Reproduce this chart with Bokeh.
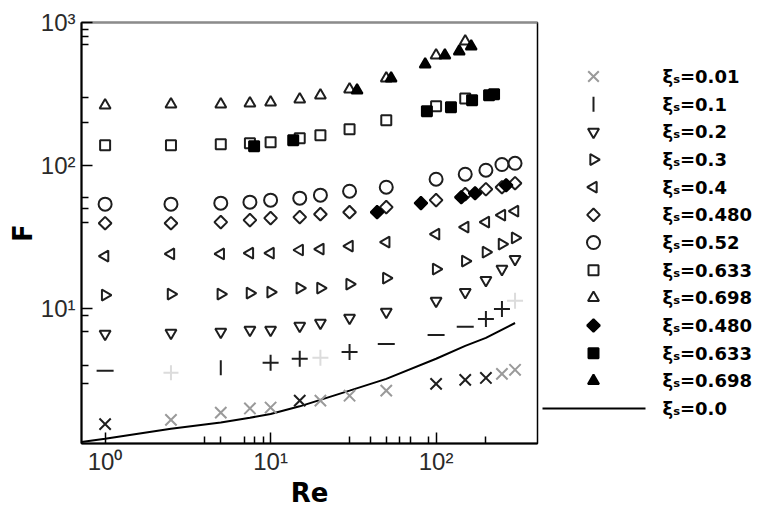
import math
from bokeh.plotting import figure
from bokeh.models import LogAxis, FixedTicker, Range1d, ColumnDataSource
from bokeh.layouts import row
from bokeh.embed import file_html
from bokeh.resources import INLINE
from bokeh.core.properties import value

# ---------------- data ----------------
re_all = [1, 2.5, 5, 7.5, 10, 15, 20, 30, 50, 100, 150, 200, 250, 300]

F_001 = [1.57, 1.68, 1.89, 2.02, 2.05, 2.29, 2.29, 2.48, 2.69, 3.00, 3.20, 3.30, 3.52, 3.76]

re_01 = [5, 1, 2.5, 10, 15, 20, 30, 50, 100, 150, 200, 250, 300]
F_01 = [3.88, 3.70, 3.58, 4.21, 4.49, 4.56, 5.01, 5.70, 6.59, 7.50, 8.51, 10.0, 11.4]

F_02 = [6.70, 6.81, 6.92, 7.14, 7.14, 7.62, 7.99, 8.65, 9.53, 11.4, 13.1, 15.9, 19.0, 22.3]
F_03 = [12.5, 12.7, 12.7, 12.9, 13.1, 14.0, 14.0, 14.9, 16.4, 19.0, 21.6, 24.9, 28.4, 31.3]
F_04 = [23.4, 24.2, 24.2, 24.5, 24.5, 25.8, 26.2, 27.5, 29.3, 33.3, 37.3, 40.4, 45.2, 48.2]
F_048 = [39.7, 39.7, 40.4, 41.7, 43.1, 43.8, 45.9, 47.4, 51.4, 57.5, 63.3, 68.5, 70.8, 75.5]
F_052 = [53.9, 53.9, 54.8, 55.7, 57.5, 59.4, 62.3, 66.4, 70.8, 80.5, 87.3, 93.1, 102.0, 104.0]

re_0633 = [1, 2.5, 5, 7.5, 10, 15, 20, 30, 50, 100, 150]
F_0633 = [139, 139, 141, 143.5, 146, 155.6, 163, 179.6, 207.5, 260, 295]

re_0698 = [1, 2.5, 5, 7.5, 10, 15, 20, 30, 50, 100, 150]
F_0698 = [264, 268.5, 268.5, 273, 277, 291, 310, 341, 407, 589, 738]

re_048f = [44, 81, 142, 172, 265]
F_048f = [47.4, 54.8, 60.3, 64.3, 73.1]

re_0633f = [7.95, 13.7, 88, 123, 165, 209, 224]
F_0633f = [137, 150.7, 240, 256, 286, 310, 315]

re_0698f = [33.3, 53.5, 85.9, 113, 138, 163]
F_0698f = [336, 407, 510, 589, 628, 681]

re_line = [0.72, 1, 2.5, 5, 7.5, 10, 15, 30, 50, 100, 150, 200, 300]
F_line = [1.18, 1.24, 1.46, 1.61, 1.74, 1.85, 2.09, 2.69, 3.25, 4.49, 5.52, 6.28, 7.98]

x_major = [1, 10, 100]
x_labels = ["10⁰", "10¹", "10²"]
y_major = [10, 100, 1000]
y_labels = ["10¹", "10²", "10³"]
x_minor = [4, 5, 7, 8, 9, 30, 40, 50, 60, 70, 90, 200]
y_minor = [3, 4, 7, 9, 40, 50, 60, 200, 300, 700, 800, 900]

legend_labels = ["ξₛ=0.01", "ξₛ=0.1", "ξₛ=0.2", "ξₛ=0.3", "ξₛ=0.4", "ξₛ=0.480",
                 "ξₛ=0.52", "ξₛ=0.633", "ξₛ=0.698", "ξₛ=0.480", "ξₛ=0.633",
                 "ξₛ=0.698", "ξₛ=0.0"]

# ---------------- styles ----------------
DARK = "#1e1e1e"
GRAY = "#9a9a9a"
FAINT = "#dcdcdc"
x001_colors = [DARK, GRAY, GRAY, GRAY, GRAY, DARK, GRAY, GRAY, GRAY, DARK, DARK, DARK, GRAY, GRAY]
s01_markers = ["dash", "dash", "cross", "cross", "cross", "cross", "cross", "dash", "dash", "dash",
               "cross", "cross", "cross"]
s01_angles = [math.pi / 2] + [0] * 12
s01_colors = [DARK, DARK, FAINT, DARK, DARK, FAINT, DARK, DARK, DARK, DARK, DARK, DARK, FAINT]
s01_sizes = [15, 17, 15, 16, 16, 16, 16, 17, 17, 17, 16, 16, 16]

FRAME_L, FRAME_W, FRAME_T, FRAME_H, BORDER_R, BORDER_B = 81, 456, 22, 421, 4, 63

# ---------------- main figure ----------------
p = figure(x_axis_type="log", y_axis_type="log",
           x_range=Range1d(0.72, 410), y_range=Range1d(1.15, 1000),
           frame_width=FRAME_W, frame_height=FRAME_H,
           min_border_left=FRAME_L, min_border_right=BORDER_R,
           min_border_top=FRAME_T, min_border_bottom=BORDER_B,
           output_backend="svg", toolbar_location=None,
           background_fill_color="white", border_fill_color="white",
           outline_line_color="black", outline_line_width=1.5)
p.xgrid.visible = False
p.ygrid.visible = False

for ax, ticks, labels, minor in ((p.xaxis[0], x_major, x_labels, x_minor),
                                  (p.yaxis[0], y_major, y_labels, y_minor)):
    ax.ticker = FixedTicker(ticks=ticks, minor_ticks=minor)
    ax.major_label_overrides = {float(t): l for t, l in zip(ticks, labels)}
    ax.major_tick_in = 11
    ax.major_tick_out = 0
    ax.minor_tick_in = 7
    ax.minor_tick_out = 0
    ax.major_tick_line_width = 1.5
    ax.minor_tick_line_width = 1.5
    ax.major_tick_line_color = "black"
    ax.minor_tick_line_color = "black"
    ax.axis_line_width = 2
    ax.axis_line_color = "black"
    ax.major_label_text_font = "Liberation Sans"
    ax.major_label_text_font_size = "24px"
    ax.major_label_text_color = "#2a2a2a"
    ax.axis_label_text_font = "DejaVu Sans"
    ax.axis_label_text_font_style = "bold"
    ax.axis_label_text_font_size = "26px"
    ax.axis_label_text_color = "black"
    ax.axis_label_standoff = 0

p.xaxis[0].axis_label = "Re"
p.xaxis[0].major_label_standoff = 4
p.yaxis[0].axis_label = "F"
p.yaxis[0].major_label_standoff = 6

top = LogAxis(ticker=FixedTicker(ticks=[]), axis_line_color="#8c8c8c", axis_line_width=2,
              major_tick_line_color=None, minor_tick_line_color=None,
              major_label_text_font_size="0px")
p.add_layout(top, "above")

# line xi_s = 0.0
p.line(re_line, F_line, line_color="black", line_width=2)

LW = 2
# xi = 0.01 crosses
p.scatter(re_all, F_001, marker="x", size=16, line_color=x001_colors, line_width=LW)
# xi = 0.1
src01 = ColumnDataSource(dict(x=re_01, y=F_01, m=s01_markers, a=s01_angles, c=s01_colors, s=s01_sizes))
p.scatter("x", "y", source=src01, marker="m", angle="a", size="s", line_color="c", line_width=LW)
# open series
p.scatter(re_all, F_02, marker="inverted_triangle", size=11, line_color=DARK, fill_color="white", line_width=LW)
p.scatter(re_all, F_03, marker="triangle", angle=-math.pi / 2, size=11, line_color=DARK, fill_color="white", line_width=LW)
p.scatter(re_all, F_04, marker="triangle", angle=math.pi / 2, size=11, line_color=DARK, fill_color="white", line_width=LW)
p.scatter(re_all, F_048, marker="square", angle=math.pi / 4, size=9, line_color=DARK, fill_color="white", line_width=LW)
p.scatter(re_all, F_052, marker="circle", size=13, line_color=DARK, fill_color="white", line_width=LW)
p.scatter(re_0633, F_0633, marker="square", size=10, line_color=DARK, fill_color="white", line_width=LW)
p.scatter(re_0698, F_0698, marker="triangle", size=11, line_color=DARK, fill_color="white", line_width=LW)
# filled series
p.scatter(re_048f, F_048f, marker="square", angle=math.pi / 4, size=9, line_color="black", fill_color="black", line_width=LW)
p.scatter(re_0633f, F_0633f, marker="square", size=10, line_color="black", fill_color="black", line_width=LW)
p.scatter(re_0698f, F_0698f, marker="triangle", size=11, line_color="black", fill_color="black", line_width=LW)

# ---------------- legend panel (pixel coordinates of the page) ----------------
LEG_X0 = FRAME_L + FRAME_W + BORDER_R
LEG_W = 757 - LEG_X0
lg = figure(frame_width=LEG_W, frame_height=FRAME_H,
            x_range=Range1d(LEG_X0, LEG_X0 + LEG_W),
            y_range=Range1d(FRAME_T + FRAME_H, FRAME_T),
            min_border_left=0, min_border_right=0,
            min_border_top=FRAME_T, min_border_bottom=BORDER_B,
            output_backend="svg", toolbar_location=None,
            x_axis_location=None, y_axis_location=None,
            outline_line_color=None, background_fill_color="white", border_fill_color="white")
lg.xgrid.visible = False
lg.ygrid.visible = False

row0, dy = 76, 27.67
cx, tx = 593, 662
line_x0, line_x1 = 542, 645
rows = [row0 + dy * i for i in range(len(legend_labels))]
leg_style = [
    dict(marker="x", angle=0, size=15, line_color=GRAY, fill_color=None),
    dict(marker="dash", angle=math.pi / 2, size=15, line_color=DARK, fill_color=None),
    dict(marker="inverted_triangle", angle=0, size=11, line_color=DARK, fill_color="white"),
    dict(marker="triangle", angle=-math.pi / 2, size=11, line_color=DARK, fill_color="white"),
    dict(marker="triangle", angle=math.pi / 2, size=11, line_color=DARK, fill_color="white"),
    dict(marker="square", angle=math.pi / 4, size=9, line_color=DARK, fill_color="white"),
    dict(marker="circle", angle=0, size=13, line_color=DARK, fill_color="white"),
    dict(marker="square", angle=0, size=10, line_color=DARK, fill_color="white"),
    dict(marker="triangle", angle=0, size=11, line_color=DARK, fill_color="white"),
    dict(marker="square", angle=math.pi / 4, size=9, line_color="black", fill_color="black"),
    dict(marker="square", angle=0, size=10, line_color="black", fill_color="black"),
    dict(marker="triangle", angle=0, size=11, line_color="black", fill_color="black"),
]
for ry, st in zip(rows, leg_style):
    lg.scatter([cx], [ry], line_width=LW, **st)
lg.line([line_x0, line_x1], [rows[-1], rows[-1]], line_color="black", line_width=2)
lg.text(x=[tx] * len(rows), y=rows, text=legend_labels,
        text_font=value("DejaVu Sans"), text_font_style="bold", text_font_size="18px",
        text_baseline="middle", text_align="left", text_color="black")

layout = row(p, lg)
open("out.html", "w").write(file_html(layout, INLINE))
